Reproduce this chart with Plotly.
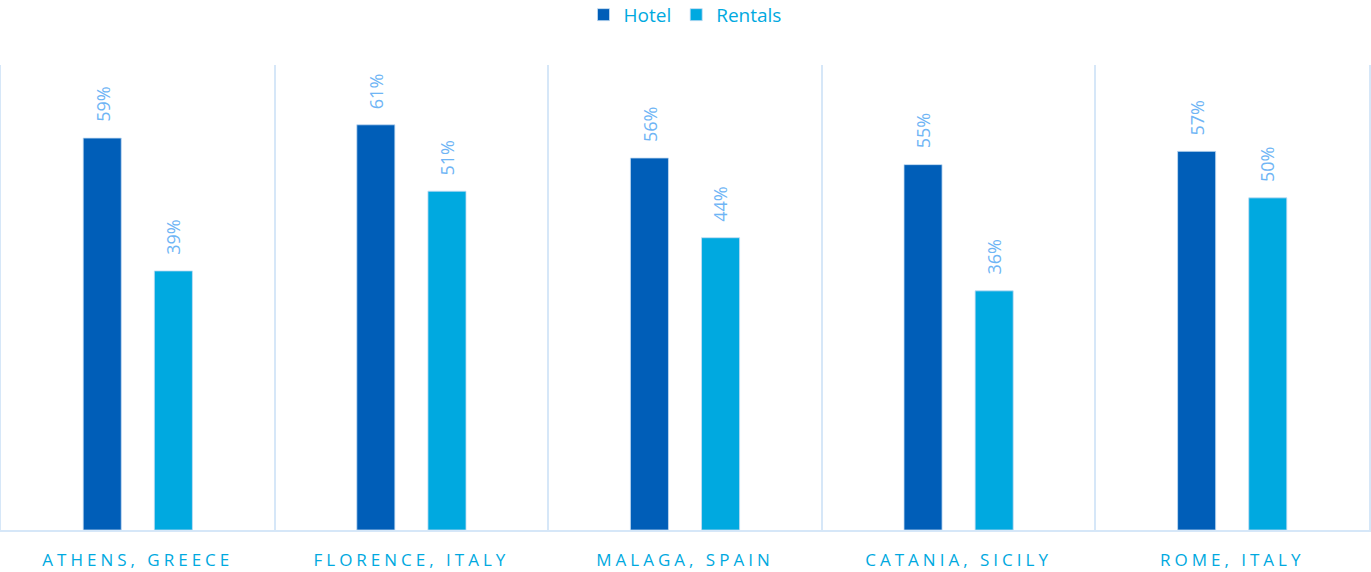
import plotly.graph_objects as go

categories = ["ATHENS, GREECE", "FLORENCE, ITALY", "MALAGA, SPAIN", "CATANIA, SICILY", "ROME, ITALY"]
hotel = [59, 61, 56, 55, 57]
rentals = [39, 51, 44, 36, 50]

HOTEL_C = "#005EB8"
RENT_C = "#00A9E0"
LABEL_C = "#6FB5F5"
GRID_C = "#D6E7F8"
FONT = "Open Sans"

fig = go.Figure()
fig.add_trace(go.Bar(name="Hotel", x=categories, y=hotel, marker=dict(color=HOTEL_C, line=dict(color="#C4DCF3", width=0.8))))
fig.add_trace(go.Bar(name="Rentals", x=categories, y=rentals, marker=dict(color=RENT_C, line=dict(color="#C4DCF3", width=0.8))))

for vals, shift in ((hotel, -35.5), (rentals, 35.5)):
    for c, v in zip(categories, vals):
        fig.add_annotation(x=c, y=v, text=f"{v}%", showarrow=False, textangle=-90,
                           xshift=shift, yshift=14, yanchor="bottom", xanchor="center",
                           font=dict(family=FONT, size=18, color=LABEL_C))

fig.update_layout(
    width=1371, height=572,
    margin=dict(l=1, r=2, t=65, b=42, autoexpand=False),
    paper_bgcolor="white", plot_bgcolor="white",
    barmode="group", bargap=0.48, bargroupgap=0.465,
    showlegend=True,
    legend=dict(orientation="h", x=0.5, xanchor="center", y=1.108, yanchor="middle",
                font=dict(family=FONT, size=19, color=RENT_C), itemwidth=30,
                traceorder="normal"),
    xaxis=dict(type="category", tickson="boundaries", showgrid=True, gridcolor=GRID_C, gridwidth=2,
               showline=True, linecolor=GRID_C, linewidth=2, mirror=False,
               ticks="", ticklabelstandoff=14,
               tickfont=dict(family=FONT, size=17, color=RENT_C)),
    yaxis=dict(range=[0, 70], showgrid=False, showticklabels=False, zeroline=False,
               showline=True, linecolor=GRID_C, linewidth=2, mirror=True, ticks=""),
    font=dict(family=FONT),
)

post = """
document.body.style.margin='0';
var gd = document.getElementById('{plot_id}');
function sp(){ document.querySelectorAll('.xtick text').forEach(function(t){ t.style.letterSpacing='4px'; }); }
sp(); gd.on('plotly_afterplot', sp);
"""
fig.write_html("out.html", post_script=post, config={"displayModeBar": False})
